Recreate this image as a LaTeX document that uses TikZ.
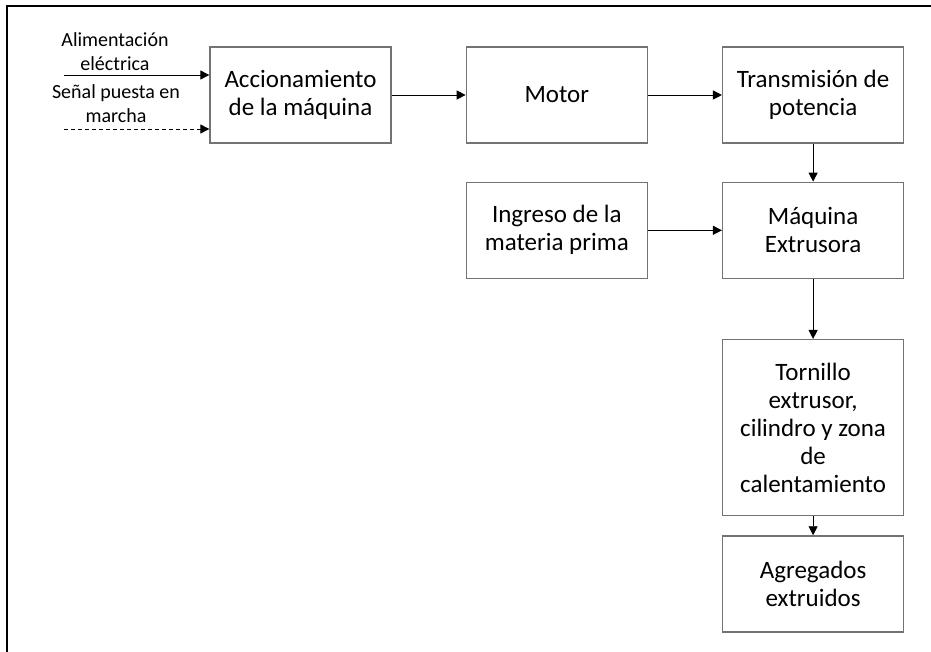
\documentclass[tikz,border=0pt]{standalone}
\usepackage{fontspec}
\setmainfont{Carlito}
\usepackage{tikz}
\usetikzlibrary{arrows.meta, positioning}

\begin{document}
\begin{tikzpicture}[>={Triangle[length=9pt,width=9pt]}, node distance=74pt,
  box/.style={draw=black!55, line width=1.3pt, minimum width=181pt, minimum height=96pt,
    align=center, inner sep=2pt, font=\fontsize{25}{28}\selectfont},
  small/.style={align=center, inner sep=0pt, font=\fontsize{20}{24}\selectfont}]
  % page size and the frame lines at top and left
  \useasboundingbox (0,0) rectangle (931pt,-652pt);
  \draw[line width=1.8pt] (7pt,-652pt) -- (7pt,-6pt) -- (931pt,-6pt);

  % top row of blocks
  \node[box] (acc) at (300.5pt,-95pt) {Accionamiento\\de la máquina};
  \node[box, right=of acc] (motor) {Motor};
  \node[box, right=of motor] (trans) {Transmisión de\\potencia};

  % extruder and its input
  \node[box, below=38pt of trans] (maq) {Máquina\\Extrusora};
  \node[box, left=of maq] (ingreso) {Ingreso de la\\materia prima};

  % screw block and output
  \node[box, below=60pt of maq, minimum height=176pt] (tornillo) {Tornillo\\extrusor,\\cilindro y zona\\de\\calentamiento};
  \node[box, below=19pt of tornillo] (agregados) {Agregados\\extruidos};

  % inputs on the left: power (solid) and start signal (dashed)
  \coordinate (pwr) at ([xshift=-145pt,yshift=20pt]acc.west);
  \coordinate (start) at ([xshift=-145pt,yshift=-34pt]acc.west);
  \node[small] (pwrlbl) at (115pt,-52pt) {Alimentación\\eléctrica};
  \node[small] (startlbl) at (116pt,-104pt) {Señal puesta en\\marcha};
  \draw[->, line width=0.9pt] (pwr) -- (pwr -| acc.west);
  \draw[->, line width=0.9pt, dashed, dash pattern=on 4pt off 3pt] (start) -- (start -| acc.west);

  % flow between the blocks
  \draw[->, line width=0.9pt] (acc) -- (motor);
  \draw[->, line width=0.9pt] (motor) -- (trans);
  \draw[->, line width=0.9pt] (trans) -- (maq);
  \draw[->, line width=0.9pt] (ingreso) -- (maq);
  \draw[->, line width=0.9pt] (maq) -- (tornillo);
  \draw[->, line width=0.9pt] (tornillo) -- (agregados);
\end{tikzpicture}
\end{document}
